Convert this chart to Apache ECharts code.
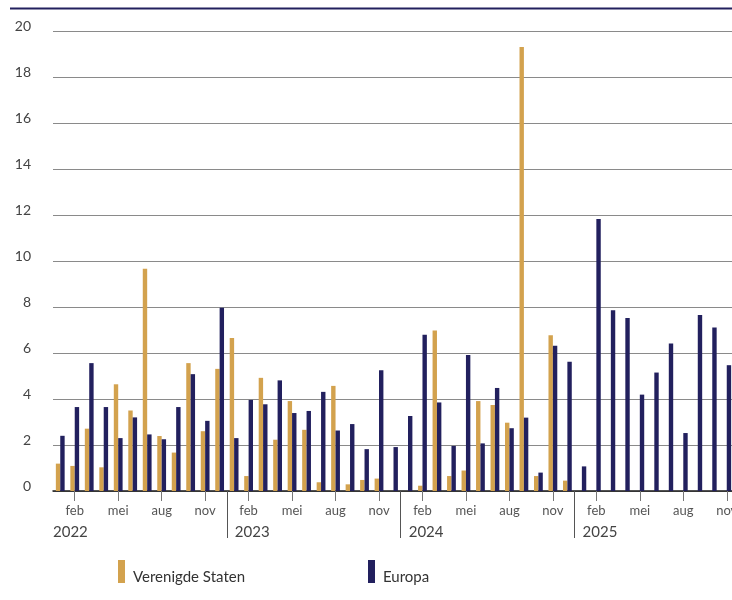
<!DOCTYPE html>
<html>
<head>
<meta charset="utf-8">
<script src="https://cdn.jsdelivr.net/npm/echarts@6/dist/echarts.min.js"></script>
<style>html,body{margin:0;padding:0;background:#fff}#c{width:732px;height:600px}</style>
</head>
<body>
<div id="c"></div>
<script>
// Data: Jan 2022 – Nov 2025
const monthNames = ['jan','feb','mrt','apr','mei','jun','jul','aug','sep','okt','nov','dec'];
const years = ['2022','2023','2024','2025'];
const seriesNames = ['Verenigde Staten','Europa'];
const verenigdeStaten = [
  1.19, 1.09, 2.71, 1.03, 4.64, 3.50, 9.66, 2.39, 1.67, 5.56, 2.60, 5.31,
  6.65, 0.65, 4.92, 2.23, 3.91, 2.66, 0.38, 4.57, 0.29, 0.48, 0.54, 0,
  0, 0.23, 6.98, 0.65, 0.89, 3.91, 3.74, 2.97, 19.3, 0.65, 6.77, 0.45,
  null, null, null, null, null, null, null, null, null, null, null
];
const europa = [
  2.40, 3.65, 5.56, 3.65, 2.30, 3.20, 2.46, 2.25, 3.65, 5.08, 3.05, 7.97,
  2.30, 3.96, 3.77, 4.81, 3.39, 3.48, 4.31, 2.63, 2.91, 1.82, 5.25, 1.91,
  3.26, 6.79, 3.85, 1.96, 5.91, 2.07, 4.48, 2.73, 3.19, 0.80, 6.32, 5.62,
  1.07, 11.83, 7.86, 7.52, 4.19, 5.15, 6.41, 2.52, 7.65, 7.11, 5.47
];
const yTicks = [0, 20, 2]; // min, max, interval

const nMonths = europa.length;
const categories = [];
for (let i = 0; i < nMonths; i++) categories.push(monthNames[i % 12] + ' ' + years[Math.floor(i / 12)]);

const gold = '#D3A24E';
const navy = '#22205E';
const font = 'Lato';

const chart = echarts.init(document.getElementById('c'), null, {renderer: 'canvas'});
const longTickVals = [];
for (let i = 0; i < nMonths; i++) if (i % 3 === 1) longTickVals.push(i + 0.5);
const yearSepVals = [];
for (let i = 12; i < nMonths; i += 12) yearSepVals.push(i);
const yearLabelVals = years.map((y, k) => k === 0 ? 0 : k * 12 + 0.55);

chart.setOption({
  animation: false,
  graphic: [{
    type: 'line', shape: {x1: 10, y1: 8.5, x2: 732, y2: 8.5},
    style: {stroke: navy, lineWidth: 2}
  }],
  grid: {left: 53, top: 31, width: 681, height: 460, outerBoundsMode: 'none', containLabel: false},
  legend: {
    data: seriesNames, left: 118, top: 560, padding: 0,
    icon: 'rect', itemWidth: 7, itemHeight: 23, itemGap: 123,
    formatter: '{t|{name}}',
    textStyle: {
      fontFamily: font, fontSize: 15, color: '#333',
      rich: {t: {fontFamily: font, fontSize: 15, color: '#333', padding: [11, 0, 0, 3]}}
    }
  },
  xAxis: [{
    type: 'category', data: categories, boundaryGap: true,
    axisLine: {lineStyle: {color: '#1a1a1a', width: 1.5}},
    axisTick: {alignWithLabel: true, interval: 0, length: 5, lineStyle: {color: '#777'}},
    axisLabel: {
      interval: (i) => i % 3 === 1,
      formatter: (v) => v.split(' ')[0],
      fontFamily: font, fontSize: 13, color: '#555', margin: 13
    }
  }, {
    type: 'value', min: 0, max: nMonths, position: 'bottom',
    axisLine: {show: false}, splitLine: {show: false},
    axisTick: {show: true, customValues: yearSepVals, length: 47, lineStyle: {color: '#555'}},
    axisLabel: {
      customValues: yearLabelVals, align: 'left',
      formatter: (v) => years[Math.floor(v / 12)],
      fontFamily: font, fontSize: 15, color: '#444', margin: 34
    }
  }, {
    type: 'value', min: 0, max: nMonths, position: 'bottom',
    axisLine: {show: false}, splitLine: {show: false},
    axisTick: {show: true, customValues: longTickVals, length: 10, lineStyle: {color: '#777'}},
    axisLabel: {show: false}
  }],
  yAxis: {
    type: 'value', min: yTicks[0], max: yTicks[1], interval: yTicks[2],
    axisLine: {show: false}, axisTick: {show: false},
    splitLine: {lineStyle: {color: '#8a8a8a', width: 1}},
    axisLabel: {
      fontFamily: font, fontSize: 14, color: '#444', align: 'right', margin: 22,
      verticalAlign: 'bottom', lineHeight: 10
    }
  },
  series: [{
    name: seriesNames[0], type: 'bar', data: verenigdeStaten, xAxisIndex: 0,
    itemStyle: {color: gold}, barWidth: 4.4, barGap: '0%'
  }, {
    name: seriesNames[1], type: 'bar', data: europa, xAxisIndex: 0,
    itemStyle: {color: navy}, barWidth: 4.4, barGap: '0%'
  }]
});
</script>
</body>
</html>
